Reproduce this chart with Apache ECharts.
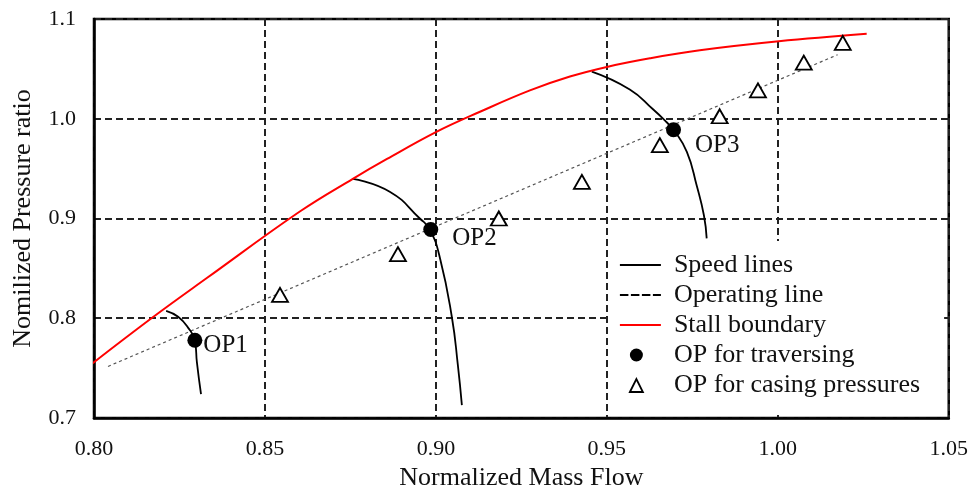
<!DOCTYPE html>
<html>
<head>
<meta charset="utf-8">
<script src="https://cdn.jsdelivr.net/npm/echarts@6/dist/echarts.min.js"></script>
<style>html,body{margin:0;padding:0;background:#fff}#c{width:971px;height:496px}</style>
</head>
<body>
<div id="c"></div>
<script>
// ---- data ----
const xTicks = [0.80, 0.85, 0.90, 0.95, 1.00, 1.05];
const yTicks = [0.7, 0.8, 0.9, 1.0, 1.1];
const stallBoundary = [[0.7985,0.752],[0.817,0.8005],[0.833,0.8403],[0.8602,0.907],[0.8757,0.9398],[0.8857,0.9597],[0.900,0.9866],[0.9129,1.007],[0.9275,1.0284],[0.9392,1.0423],[0.9503,1.0522],[0.9626,1.0606],[0.9772,1.0686],[1.0003,1.0776],[1.026,1.0851]];
const operatingLine = [[0.8041,0.7517],[1.0175,1.0642]];
const speedLine1 = [[0.8211,0.8075],[0.8246,0.8015],[0.8275,0.7906],[0.8295,0.7776],[0.8301,0.7557],[0.8313,0.7239]];
const speedLine2 = [[0.8757,0.9398],[0.8865,0.9269],[0.8953,0.9000],[0.8982,0.8891],[0.9012,0.8602],[0.9047,0.8005],[0.9064,0.7537],[0.9076,0.7129]];
const speedLine3 = [[0.9456,1.0473],[0.9567,1.0294],[0.9635,1.0095],[0.9675,0.9965],[0.9696,0.9886],[0.9734,0.9667],[0.9763,0.9328],[0.9784,0.9030],[0.9792,0.8801]];
const opNames = ['OP1','OP2','OP3'];
const opTraversing = [[0.8295,0.778],[0.8985,0.889],[0.9695,0.989]];
const opCasing = [[0.8544,0.8234],[0.8889,0.8642],[0.9184,0.9000],[0.9427,0.9368],[0.9655,0.9736],[0.9830,1.0025],[0.9942,1.0284],[1.0076,1.0562],[1.0190,1.0761]];
const legendNames = ['Speed lines','Operating line','Stall boundary','OP for traversing','OP for casing pressures'];

// ---- chart ----
const FONT = 'Liberation Serif';
const labelOffsets = [[-4,5],[9,9],[9,16]];
const chart = echarts.init(document.getElementById('c'), null, {renderer:'canvas'});
const speedStyle = {color:'#000', width:1.8};
function speedSeries(d){
  return {name:legendNames[0], type:'line', data:d, smooth:true, symbol:'none', lineStyle:speedStyle, itemStyle:{color:'#000'}, z:3};
}
// legend icons (drawn inside a 41x14 box so they keep their shape)
const solidIcon = 'path://M0,0M41,14M0,6.1L41,6.1L41,7.9L0,7.9Z';
const dashIcon = 'path://M0,0M41,14M0,6L8.5,6L8.5,8L0,8ZM11,6L19.5,6L19.5,8L11,8ZM22,6L30.5,6L30.5,8L22,8ZM33,6L41,6L41,8L33,8Z';
const triIcon = 'path://M0,0M41,14M10,14L16.5,1L23,14Z';
const dotIcon = 'path://M0,0M41,14M10,7a6.5,6.5 0 1,0 13,0a6.5,6.5 0 1,0 -13,0Z';
chart.setOption({
  backgroundColor:'#fff',
  animation:false,
  grid:{left:94, right:21, top:19, bottom:75, show:true, borderColor:'#000', borderWidth:2.5, backgroundColor:'transparent'},
  xAxis:{type:'value', min:xTicks[0], max:xTicks[xTicks.length-1], interval:0.05,
    name:'Normalized Mass Flow', nameLocation:'middle', nameGap:47,
    nameTextStyle:{fontFamily:FONT, fontSize:26, color:'#111'},
    axisLine:{show:true, lineStyle:{color:'#000', width:2.5}}, axisTick:{show:false},
    axisLabel:{fontFamily:FONT, fontSize:22, color:'#111', margin:20, formatter:v=>v.toFixed(2)},
    splitLine:{show:true, lineStyle:{color:'#222', width:2, type:[7,4]}}},
  yAxis:{type:'value', min:yTicks[0], max:yTicks[yTicks.length-1], interval:0.1,
    name:'Nomilized Pressure ratio', nameLocation:'middle', nameGap:58,
    nameTextStyle:{fontFamily:FONT, fontSize:26, color:'#111'},
    axisLine:{show:true, lineStyle:{color:'#000', width:2.5}}, axisTick:{show:false},
    axisLabel:{fontFamily:FONT, fontSize:22, color:'#111', margin:18, formatter:v=>v.toFixed(1)},
    splitLine:{show:true, lineStyle:{color:'#222', width:2, type:[7,4]}}},
  legend:{orient:'vertical', left:611, top:241, padding:[9,24,15,8], backgroundColor:'#fff',
    itemWidth:41, itemHeight:14, itemGap:0, symbolKeepAspect:true,
    textStyle:{fontFamily:FONT, fontSize:26, color:'#111', lineHeight:30, padding:[0,0,0,8]},
    data:[
      {name:legendNames[0], icon:solidIcon, itemStyle:{color:'#000', opacity:1, borderWidth:0}},
      {name:legendNames[1], icon:dashIcon, itemStyle:{color:'#000', opacity:1, borderWidth:0}},
      {name:legendNames[2], icon:solidIcon, itemStyle:{color:'#ff0000', opacity:1, borderWidth:0}},
      {name:legendNames[3], icon:dotIcon, itemStyle:{color:'#000', opacity:1}},
      {name:legendNames[4], icon:triIcon, itemStyle:{color:'#fff', borderColor:'#000', borderWidth:1.8, opacity:1}}
    ]},
  series:[
    speedSeries(speedLine1), speedSeries(speedLine2), speedSeries(speedLine3),
    {name:legendNames[1], type:'line', data:operatingLine, symbol:'none', lineStyle:{color:'#555', width:1.2, type:[3,3]}, itemStyle:{color:'#555'}, z:2},
    {name:legendNames[2], type:'line', data:stallBoundary, smooth:0.4, symbol:'none', clip:false, lineStyle:{color:'#ff0000', width:2}, itemStyle:{color:'#ff0000'}, z:3},
    {name:legendNames[3], type:'scatter', symbol:'circle', symbolSize:15, itemStyle:{color:'#000', opacity:1}, z:5,
      data:opTraversing.map((p,i)=>({value:p, name:opNames[i], label:{show:true, position:'right', offset:labelOffsets[i], formatter:opNames[i], fontFamily:FONT, fontSize:25, color:'#111'}}))},
    {name:legendNames[4], type:'scatter', symbol:'triangle', symbolSize:[16,14], itemStyle:{color:'#fff', borderColor:'#000', borderWidth:1.8, opacity:1}, z:5, data:opCasing}
  ]
});
</script>
</body>
</html>
